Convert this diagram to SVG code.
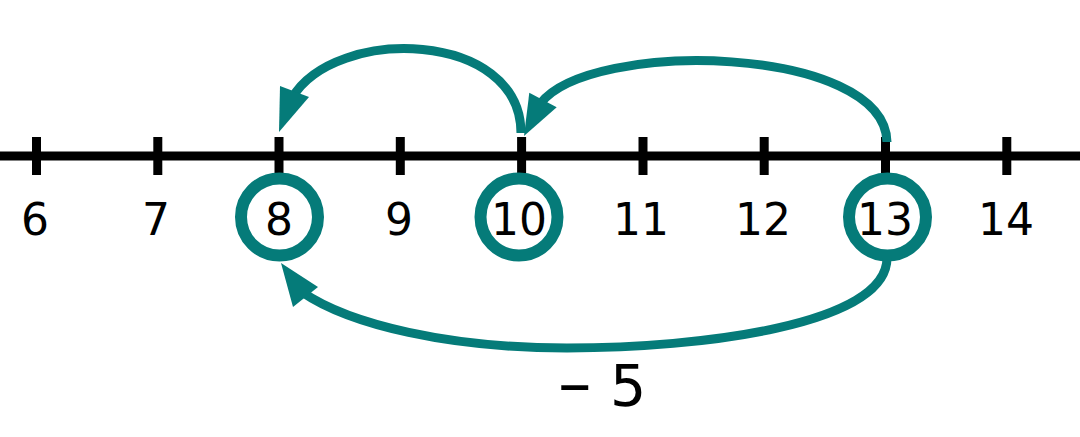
<svg xmlns="http://www.w3.org/2000/svg" width="1080" height="437" viewBox="0 0 1080 437">
<style>
.axis{stroke:#000;stroke-width:9;fill:none}
.tick{stroke:#000;stroke-width:9}
.num{font-family:"DejaVu Sans",sans-serif;font-size:44px;fill:#000;text-anchor:middle}
.ring{fill:none;stroke:#057B79;stroke-width:12}
.arc{fill:none;stroke:#057B79;stroke-width:9}
.head{fill:#057B79}
.lbl{font-family:"DejaVu Sans",sans-serif;font-size:57px;fill:#000}
</style>
<rect width="1080" height="437" fill="#fff"/>
<g id="numberline">
<line class="axis" x1="0" y1="156" x2="1080" y2="156"/>
<line class="tick" x1="36.5" y1="137" x2="36.5" y2="175"/>
<line class="tick" x1="157.8" y1="137" x2="157.8" y2="175"/>
<line class="tick" x1="279" y1="137" x2="279" y2="175"/>
<line class="tick" x1="400.3" y1="137" x2="400.3" y2="175"/>
<line class="tick" x1="521.6" y1="137" x2="521.6" y2="175"/>
<line class="tick" x1="643" y1="137" x2="643" y2="175"/>
<line class="tick" x1="764.2" y1="137" x2="764.2" y2="175"/>
<line class="tick" x1="885.5" y1="137" x2="885.5" y2="175"/>
<line class="tick" x1="1006.8" y1="137" x2="1006.8" y2="175"/>
</g>
<g id="n6"><text class="num" x="35" y="235">6</text></g>
<g id="n7"><text class="num" x="156" y="235">7</text></g>
<g id="n8"><circle class="ring" cx="279.5" cy="217" r="38.5"/><text class="num" x="279" y="235">8</text></g>
<g id="n9"><text class="num" x="399" y="235">9</text></g>
<g id="n10"><circle class="ring" cx="519" cy="217" r="38.5"/><text class="num" x="519" y="235">10</text></g>
<g id="n11"><text class="num" x="641" y="235">11</text></g>
<g id="n12"><text class="num" x="763" y="235">12</text></g>
<g id="n13"><circle class="ring" cx="887.5" cy="217" r="38.5"/><text class="num" x="885" y="235">13</text></g>
<g id="n14"><text class="num" x="1006" y="235">14</text></g>
<g id="connectors">
<path class="arc" d="M 521 133 C 521 30, 335 25, 292 98"/>
<polygon class="head" points="279,132 280,86 309,97"/>
<path class="arc" d="M 887 142 C 885 45, 590 38, 540 104"/>
<polygon class="head" points="524,136 529.3,92.8 556.7,107.2"/>
<path class="arc" d="M 887 258 C 887 325, 700 348, 567 348 C 450 348, 350 325, 302 292"/>
<polygon class="head" points="281,263 318,287 293,307"/>
</g>
<g id="label"><text class="lbl" x="558" y="406"><tspan font-size="67">–</tspan><tspan x="610">5</tspan></text></g>
</svg>
